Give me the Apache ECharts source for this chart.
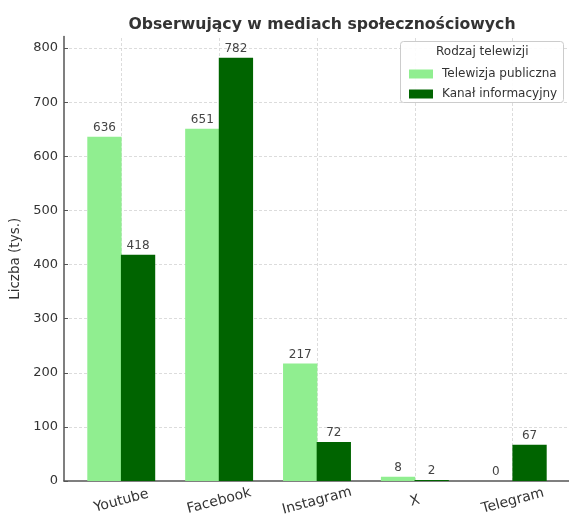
<!DOCTYPE html>
<html>
<head>
<meta charset="utf-8">
<script src="https://cdn.jsdelivr.net/npm/echarts@6/dist/echarts.min.js"></script>
<style>html,body{margin:0;padding:0;background:#fff}#c{width:569px;height:515px}</style>
</head>
<body>
<div id="c"></div>
<script>
const categories = ['Youtube', 'Facebook', 'Instagram', 'X', 'Telegram'];
const publiczna = [636, 651, 217, 8, 0];
const informacyjny = [418, 782, 72, 2, 67];
const seriesNames = ['Telewizja publiczna', 'Kanał informacyjny'];
const yTicks = [0, 100, 200, 300, 400, 500, 600, 700, 800];

const FONT = 'DejaVu Sans';
const chart = echarts.init(document.getElementById('c'), null, {renderer: 'canvas'});
const idx = categories.map((_, i) => i);

chart.setOption({
  animation: false,
  backgroundColor: '#fff',
  textStyle: {fontFamily: FONT},
  title: {
    text: 'Obserwujący w mediach społecznościowych',
    left: 317, top: 12, textAlign: 'center',
    textStyle: {fontFamily: FONT, fontSize: 15.7, fontWeight: 'bold', color: '#333'}
  },
  grid: {left: 64, top: 36.6, width: 506, height: 444.4, containLabel: false, outerBoundsMode: 'none'},
  legend: {
    orient: 'vertical', left: 404, top: 63, z: 100,
    itemWidth: 24, itemHeight: 9, itemGap: 8,
    icon: 'rect',
    data: seriesNames,
    textStyle: {fontFamily: FONT, fontSize: 12, color: '#333', padding: [0, 0, 0, 4]}
  },
  graphic: [
    {type: 'rect', left: 400, top: 41, z: 50,
      shape: {width: 163, height: 61, r: 3},
      style: {fill: 'rgba(255,255,255,0.9)', stroke: '#ccc', lineWidth: 1}},
    {type: 'text', left: 436, top: 46, z: 51,
      style: {text: 'Rodzaj telewizji', fontFamily: FONT, fontSize: 12, fill: '#333'}}
  ],
  xAxis: {
    type: 'value', min: -0.585, max: 4.585,
    axisLine: {show: true, onZero: false, lineStyle: {color: '#555', width: 1.5}},
    axisTick: {show: false},
    splitLine: {show: false},
    axisLabel: {
      customValues: idx,
      rotate: 15, align: 'center', verticalAlign: 'middle', margin: 20,
      fontFamily: FONT, fontSize: 14, color: '#333',
      formatter: v => categories[Math.round(v)]
    }
  },
  yAxis: {
    type: 'value', min: 0, max: 821.1, interval: 100,
    name: 'Liczba (tys.)', nameLocation: 'middle', nameGap: 38,
    nameTextStyle: {fontFamily: FONT, fontSize: 13.5, color: '#333'},
    axisLine: {show: true, onZero: false, lineStyle: {color: '#555', width: 1.5}},
    axisTick: {show: true, inside: true, length: 4, lineStyle: {color: '#555'}},
    axisLabel: {showMaxLabel: false, fontFamily: FONT, fontSize: 13, color: '#333', margin: 6},
    splitLine: {show: true, showMaxLine: false, showMinLine: false,
      lineStyle: {color: '#d3d3d3', type: [3, 2], width: 0.8}}
  },
  series: [
    {
      name: 'grid-x', type: 'line', data: [], z: 0, silent: true,
      markLine: {
        z: 0, silent: true, symbol: 'none', label: {show: false},
        lineStyle: {color: '#d3d3d3', type: [3, 2], width: 0.8},
        data: idx.map(i => ({xAxis: i}))
      }
    },
    {
      name: seriesNames[0], type: 'bar', barWidth: 34.3, barGap: '-2%', z: 3,
      itemStyle: {color: '#90EE90'},
      label: {show: true, position: 'top', distance: 3, fontFamily: FONT, fontSize: 12, color: '#444',
        formatter: p => p.value[1]},
      data: publiczna.map((v, i) => [i, v])
    },
    {
      name: seriesNames[1], type: 'bar', barWidth: 34.3, barGap: '-2%', z: 3,
      itemStyle: {color: '#006400'},
      label: {show: true, position: 'top', distance: 3, fontFamily: FONT, fontSize: 12, color: '#444',
        formatter: p => p.value[1]},
      data: informacyjny.map((v, i) => [i, v])
    }
  ]
});
</script>
</body>
</html>
